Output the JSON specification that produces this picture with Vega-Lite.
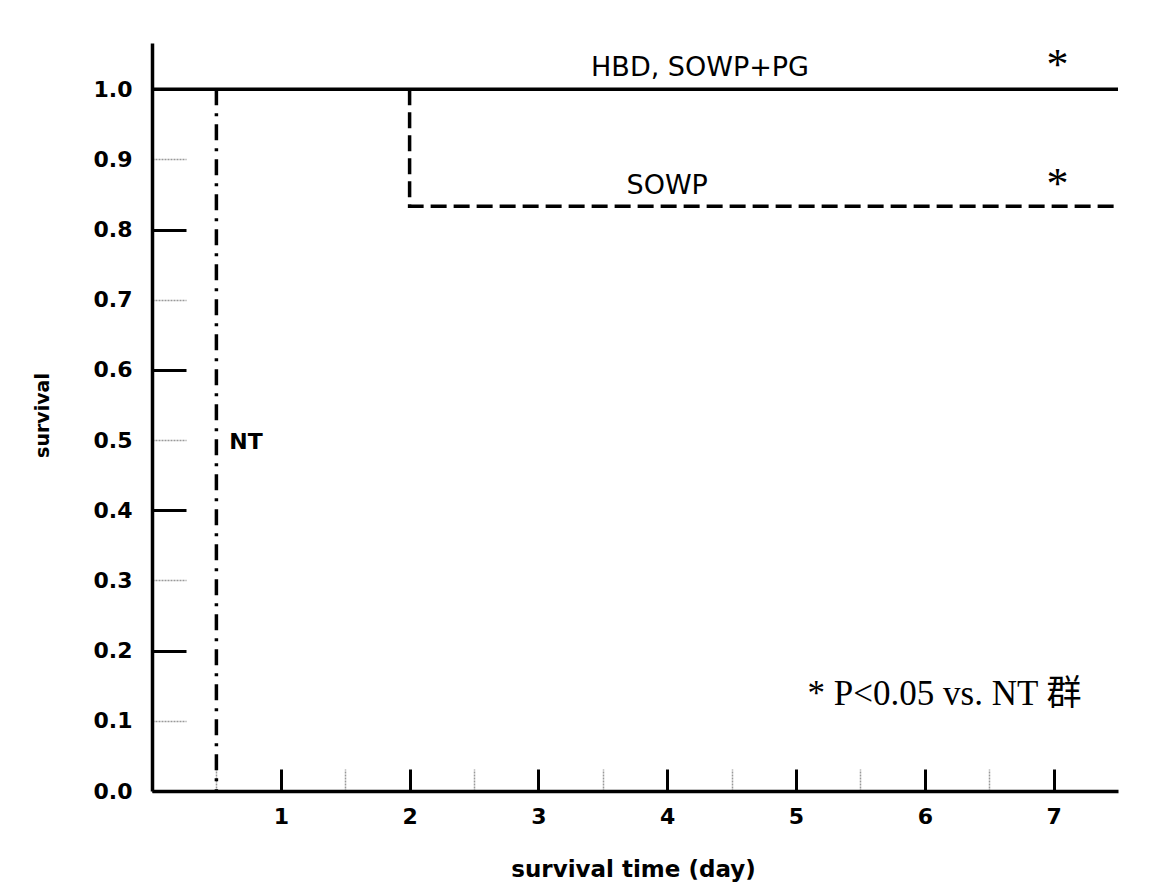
{
  "$schema": "https://vega.github.io/schema/vega-lite/v6.json",
  "autosize": {"type": "none"},
  "padding": {"left": 152, "top": 43, "right": 55, "bottom": 104},
  "width": 966,
  "height": 748,
  "background": "white",
  "config": {"view": {"stroke": null}},
  "datasets": {
    "curves": [
      {"group": "HBD, SOWP+PG", "day": 0, "survival": 1.0, "ord": 1},
      {"group": "HBD, SOWP+PG", "day": 7.5, "survival": 1.0, "ord": 2},
      {"group": "SOWP", "day": 2, "survival": 1.0, "ord": 1},
      {"group": "SOWP", "day": 2, "survival": 0.8333, "ord": 2},
      {"group": "SOWP", "day": 7.5, "survival": 0.8333, "ord": 3},
      {"group": "NT", "day": 0.5, "survival": 1.0, "ord": 1},
      {"group": "NT", "day": 0.5, "survival": 0.0, "ord": 2}
    ],
    "labels": [
      {"text": "HBD, SOWP+PG", "day": 4.255, "survival": 1.03, "kind": "curve"},
      {"text": "SOWP", "day": 4.0, "survival": 0.862, "kind": "curve"},
      {"text": "NT", "day": 0.6, "survival": 0.497, "kind": "nt"},
      {"text": "*", "day": 7.03, "survival": 1.0154, "kind": "star"},
      {"text": "*", "day": 7.03, "survival": 0.8448, "kind": "star"},
      {"text": "* P<0.05 vs. NT 群", "day": 5.09, "survival": 0.1226, "kind": "note"}
    ]
  },
  "encoding": {
    "x": {
      "field": "day",
      "type": "quantitative",
      "scale": {"domain": [0, 7.5], "nice": false, "zero": false},
      "axis": {
        "values": [0.5, 1, 1.5, 2, 2.5, 3, 3.5, 4, 4.5, 5, 5.5, 6, 6.5, 7],
        "labelExpr": "datum.value % 1 == 0 ? format(datum.value, 'd') : ''",
        "grid": false,
        "domainColor": "black",
        "domainWidth": 3.5,
        "tickSize": -22,
        "tickColor": {"condition": {"test": "datum.value % 1 != 0", "value": "#999999"}, "value": "black"},
        "tickWidth": {"condition": {"test": "datum.value % 1 != 0", "value": 1.5}, "value": 3},
        "tickDash": {"condition": {"test": "datum.value % 1 != 0", "value": [2, 1]}, "value": []},
        "labelFont": "DejaVu Sans",
        "labelFontWeight": "bold",
        "labelFontSize": 22,
        "labelColor": "black",
        "labelPadding": 37,
        "labelFlush": false,
        "labelOverlap": false,
        "title": "survival time (day)",
        "titleFont": "DejaVu Sans",
        "titleFontWeight": "bold",
        "titleFontSize": 23,
        "titleColor": "black",
        "titleX": 481,
        "titleY": 78,
        "titleAlign": "center",
        "titleBaseline": "middle",
        "titleAnchor": null
      }
    },
    "y": {
      "field": "survival",
      "type": "quantitative",
      "scale": {"domain": [0, 1.066], "nice": false, "zero": false},
      "axis": {
        "values": [0, 0.1, 0.2, 0.3, 0.4, 0.5, 0.6, 0.7, 0.8, 0.9, 1.0],
        "format": ".1f",
        "grid": false,
        "domainColor": "black",
        "domainWidth": 3.5,
        "tickSize": -34,
        "tickColor": {"condition": {"test": "round(datum.value*10) % 2 == 1", "value": "#999999"}, "value": "black"},
        "tickWidth": {"condition": {"test": "round(datum.value*10) % 2 == 1", "value": 1.5}, "value": 3},
        "tickDash": {"condition": {"test": "round(datum.value*10) % 2 == 1", "value": [2, 1]}, "value": []},
        "labelFont": "DejaVu Sans",
        "labelFontWeight": "bold",
        "labelFontSize": 22,
        "labelColor": "black",
        "labelPadding": 54,
        "labelFlush": false,
        "labelOverlap": false,
        "title": "survival",
        "titleFont": "DejaVu Sans",
        "titleFontWeight": "bold",
        "titleFontSize": 19,
        "titleColor": "black",
        "titleX": -110,
        "titleY": 372,
        "titleAngle": 270,
        "titleAlign": "center",
        "titleBaseline": "middle",
        "titleAnchor": null
      }
    }
  },
  "layer": [
    {
      "data": {"name": "curves"},
      "transform": [{"filter": "datum.group == 'HBD, SOWP+PG'"}],
      "mark": {"type": "line", "color": "black", "strokeWidth": 3.5, "strokeCap": "butt"},
      "encoding": {"order": {"field": "ord", "type": "quantitative"}}
    },
    {
      "data": {"name": "curves"},
      "transform": [{"filter": "datum.group == 'SOWP'"}],
      "mark": {"type": "line", "color": "black", "strokeWidth": 3.5, "strokeDash": [16, 7], "strokeCap": "butt"},
      "encoding": {"order": {"field": "ord", "type": "quantitative"}}
    },
    {
      "data": {"name": "curves"},
      "transform": [{"filter": "datum.group == 'NT'"}],
      "mark": {"type": "line", "color": "black", "strokeWidth": 3.5, "strokeDash": [16, 8, 3, 8], "strokeCap": "butt"},
      "encoding": {"order": {"field": "ord", "type": "quantitative"}}
    },
    {
      "data": {"name": "labels"},
      "transform": [{"filter": "datum.kind == 'curve'"}],
      "mark": {"type": "text", "font": "DejaVu Sans", "fontSize": 27, "align": "center", "baseline": "middle", "color": "black"},
      "encoding": {"text": {"field": "text"}}
    },
    {
      "data": {"name": "labels"},
      "transform": [{"filter": "datum.kind == 'nt'"}],
      "mark": {"type": "text", "font": "DejaVu Sans", "fontWeight": "bold", "fontSize": 22, "align": "left", "baseline": "middle", "color": "black"},
      "encoding": {"text": {"field": "text"}}
    },
    {
      "data": {"name": "labels"},
      "transform": [{"filter": "datum.kind == 'star'"}],
      "mark": {"type": "text", "font": "Liberation Serif", "fontSize": 44, "align": "center", "baseline": "alphabetic", "color": "black"},
      "encoding": {"text": {"field": "text"}}
    },
    {
      "data": {"name": "labels"},
      "transform": [{"filter": "datum.kind == 'note'"}],
      "mark": {"type": "text", "font": "Liberation Serif, Noto Sans CJK JP", "fontSize": 35, "align": "left", "baseline": "alphabetic", "color": "black"},
      "encoding": {"text": {"field": "text"}}
    }
  ]
}
